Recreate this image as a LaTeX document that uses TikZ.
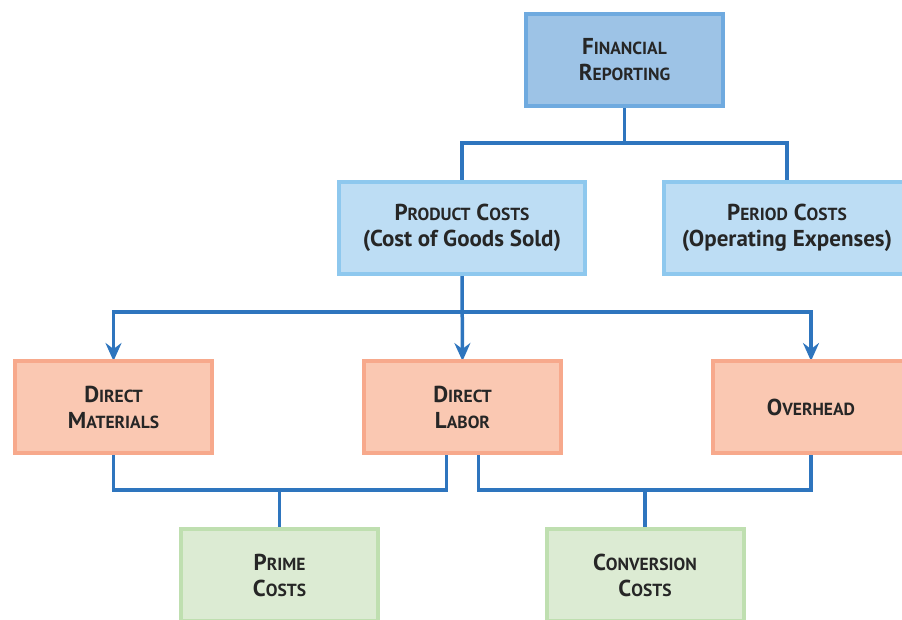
\documentclass[tikz,border=0pt]{standalone}
\usepackage{fontspec}
\setmainfont{PT Sans}
\usetikzlibrary{arrows.meta,backgrounds}

\definecolor{linkblue}{RGB}{46,117,190}
\definecolor{topfill}{RGB}{157,195,230}
\definecolor{topedge}{RGB}{111,170,223}
\definecolor{costfill}{RGB}{189,221,244}
\definecolor{costedge}{RGB}{142,200,238}
\definecolor{partfill}{RGB}{250,200,178}
\definecolor{partedge}{RGB}{247,169,140}
\definecolor{sumfill}{RGB}{220,235,211}
\definecolor{sumedge}{RGB}{191,223,176}

% fake small caps: big first letter, smaller rest
\newcommand\capsc[2]{#1{\fontsize{17.5}{26}\selectfont #2}}

\tikzset{
  box/.style={draw, line width=4pt, minimum height=92pt, inner sep=2pt,
    align=center, font=\bfseries\fontsize{23}{26}\selectfont, text=black!85},
  topbox/.style={box, fill=topfill, draw=topedge, minimum width=197pt},
  costbox/.style={box, fill=costfill, draw=costedge, minimum width=246pt},
  partbox/.style={box, fill=partfill, draw=partedge, minimum width=197pt},
  sumbox/.style={box, fill=sumfill, draw=sumedge, minimum width=197pt},
  link/.style={draw=linkblue, line width=3.5pt},
  feed/.style={link, -{Stealth[length=18pt,width=16pt,inset=6pt]}}
}

\begin{document}
\begin{tikzpicture}[x=1pt, y=-1pt]
  \useasboundingbox (0,0) rectangle (902,619);
  \clip (0,0) rectangle (902,619);

  % boxes
  \node[topbox]  (fin)  at (624.5,59.5) {\capsc{F}{INANCIAL}\\\capsc{R}{EPORTING}};
  \node[costbox] (prod) at (462,227.5)  {\capsc{P}{RODUCT} \capsc{C}{OSTS}\\(Cost of Goods Sold)};
  \node[costbox] (per)  at (787,227.5)  {\capsc{P}{ERIOD} \capsc{C}{OSTS}\\(Operating Expenses)};
  \node[partbox] (dm)   at (113.5,407)  {\capsc{D}{IRECT}\\\capsc{M}{ATERIALS}};
  \node[partbox] (dl)   at (462.5,407)  {\capsc{D}{IRECT}\\\capsc{L}{ABOR}};
  \node[partbox] (oh)   at (811,407)    {\capsc{O}{VERHEAD}};
  \node[sumbox]  (pc)   at (279.5,575)  {\capsc{P}{RIME}\\\capsc{C}{OSTS}};
  \node[sumbox]  (cc)   at (645,575)    {\capsc{C}{ONVERSION}\\\capsc{C}{OSTS}};

  % junction levels
  \coordinate (jtop) at (0,143);
  \coordinate (jmid) at (0,312);
  \coordinate (jbot) at (0,490);
  \coordinate (dlL) at ([xshift=-16pt]dl.south);
  \coordinate (dlR) at ([xshift=16pt]dl.south);

  \begin{scope}[on background layer]
    \draw[link] (fin.south) -- (fin.south |- jtop) -| (prod.north);
    \draw[link] (fin.south |- jtop) -| (per.north);

    \draw[feed] (prod.south) -- ([yshift=-2pt]dl.north);
    \draw[feed] (prod.south |- jmid) -| ([yshift=-2pt]dm.north);
    \draw[feed] (prod.south |- jmid) -| ([yshift=-2pt]oh.north);

    \draw[link] (dm.south) |- (dlL |- jbot) -- (dlL);
    \draw[link] (pc.north) -- (pc.north |- jbot);
    \draw[link] (dlR) |- (oh.south |- jbot) -- (oh.south);
    \draw[link] (cc.north) -- (cc.north |- jbot);
  \end{scope}
\end{tikzpicture}
\end{document}
